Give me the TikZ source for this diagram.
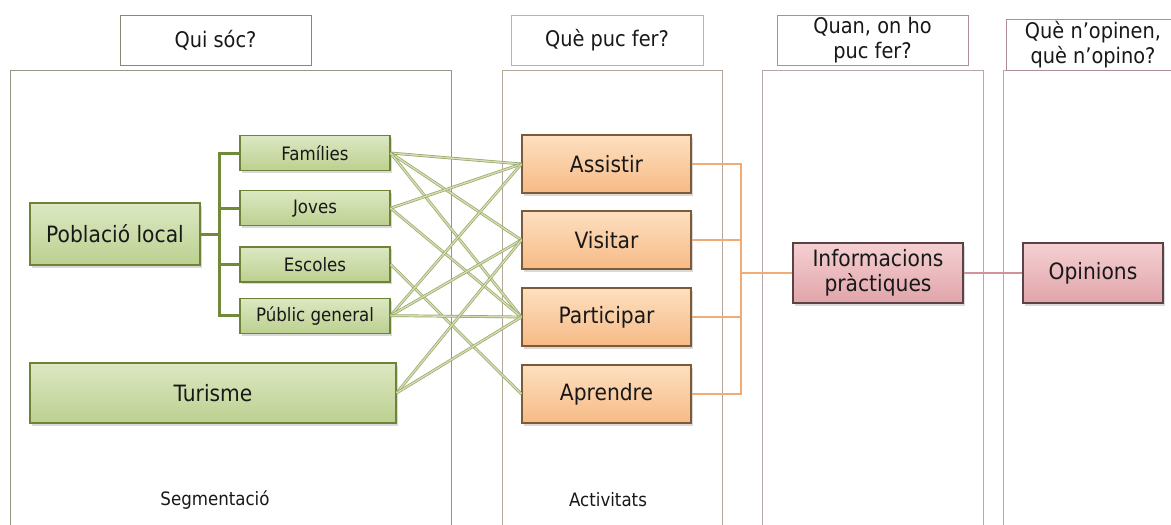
\documentclass[tikz,border=0pt]{standalone}
\usepackage{fontspec}
\setmainfont{DejaVu Sans}[FakeStretch=0.9]
\usetikzlibrary{positioning,shadows,calc}
\definecolor{segTop}{RGB}{220,232,194}
\definecolor{segFill}{RGB}{188,208,144}
\definecolor{segEdge}{RGB}{110,130,58}
\definecolor{treeCol}{RGB}{112,138,58}
\definecolor{actTop}{RGB}{253,224,192}
\definecolor{actFill}{RGB}{247,186,134}
\definecolor{actEdge}{RGB}{125,90,56}
\definecolor{actLine}{RGB}{240,172,116}
\definecolor{infTop}{RGB}{245,208,210}
\definecolor{infFill}{RGB}{224,164,170}
\definecolor{infEdge}{RGB}{92,66,68}
\definecolor{infLine}{RGB}{210,146,156}
\definecolor{linkEdge}{RGB}{150,166,104}
\definecolor{linkFill}{RGB}{212,222,178}
\definecolor{laneGreen}{RGB}{150,150,130}
\definecolor{laneSand}{RGB}{178,168,152}
\definecolor{lanePink}{RGB}{182,166,170}
\definecolor{headGreen}{RGB}{135,138,110}
\definecolor{headSand}{RGB}{192,178,152}
\definecolor{headPink}{RGB}{176,142,152}
\definecolor{ink}{RGB}{24,24,24}

\begin{document}
\begin{tikzpicture}[
        x=1pt, y=-1pt,
        lane/.style={draw=#1, line width=1pt},
        head/.style={draw=#1, fill=white, line width=1pt, align=center, inner sep=0pt,
          minimum height=50pt, text=ink, font=\fontsize{21.5}{25}\selectfont},
        bevel/.style={line width=1.2pt, inner sep=0pt, align=center, text=ink,
          drop shadow={shadow xshift=2pt, shadow yshift=-2.5pt, opacity=0.3}},
        seg/.style={bevel, draw=segEdge, top color=segTop, bottom color=segFill,
          font=\fontsize{22.5}{25}\selectfont},
        subseg/.style={seg, minimum width=150pt, minimum height=35pt,
          font=\fontsize{18.5}{20}\selectfont},
        act/.style={bevel, draw=actEdge, top color=actTop, bottom color=actFill,
          minimum width=169pt, minimum height=58pt, font=\fontsize{22.5}{25}\selectfont},
        info/.style={bevel, draw=infEdge, top color=infTop, bottom color=infFill,
          minimum height=60pt, font=\fontsize{22.5}{25}\selectfont},
        foot/.style={text=ink, inner sep=0pt, font=\fontsize{18.5}{20}\selectfont},
        tree/.style={treeCol, line width=3pt},
        link/.style={draw=linkEdge, line width=0.7pt, double=linkFill, double distance=1.4pt},
        actlink/.style={actLine, line width=2pt},
        inflink/.style={infLine, line width=2.2pt}
      ]
        \useasboundingbox (0,0) rectangle (1171,525);

        % columns
        \draw[lane=laneGreen] (10,70) rectangle (451,540);
        \draw[lane=laneSand] (502,70) rectangle (722,540);
        \draw[lane=lanePink] (762,70) rectangle (983,540);
        \draw[lane=lanePink] (1003,70) rectangle (1190,540);

        % column headings
        \node[head=headGreen, minimum width=191pt] (quisoc) at (215.5,40) {Qui sóc?};
        \node[head=headSand, minimum width=192pt] (quefer) at (607,40) {Què puc fer?};
        \node[head=headPink, minimum width=191pt] (quanon) at (872.5,40) {Quan, on ho\\puc fer?};
        \node[head=headPink, minimum width=174pt, minimum height=51pt] (opinen) at (1093,44.5) {Què n’opinen,\\què n’opino?};

        % segments
        \node[seg, minimum width=170pt, minimum height=62pt] (local) at (115,234) {Població local};
        \node[subseg] (families) at (315,153) {Famílies};
        \node[subseg, below=19pt of families] (joves) {Joves};
        \node[subseg, below=20pt of joves] (escoles) {Escoles};
        \node[subseg, below=15pt of escoles] (public) {Públic general};
        \node[seg, minimum width=366pt, minimum height=60pt] (turisme) at (213,393) {Turisme};

        % activities
        \node[act] (assistir) at (606.5,164) {Assistir};
        \node[act] (visitar) at (606.5,240) {Visitar};
        \node[act] (participar) at (606.5,317) {Participar};
        \node[act] (aprendre) at (606.5,394) {Aprendre};

        \node[info, minimum width=170pt] (informacions) at (878,273) {Informacions\\pràctiques};
        \node[info, minimum width=140pt] (opinions) at (1093,273) {Opinions};

        % segment tree
        \coordinate (localfork) at ($(local.east)+(19,0)$);
        \draw[tree] (local.east) -- (localfork);
        \foreach \n in {families,joves,escoles,public}
          \draw[tree] (localfork) |- (\n.west);

        % segments to activities
        \foreach \a/\b in {families/assistir, families/visitar, families/participar,
            joves/assistir, joves/participar, escoles/aprendre,
            public/assistir, public/visitar, public/participar,
            turisme/visitar, turisme/participar}
          \draw[link] (\a.east) -- (\b.west);

        % activities to practical info
        \coordinate (actfork) at ($(informacions.west)+(-51,0)$);
        \foreach \n in {assistir,visitar,participar,aprendre}
          \draw[actlink] (\n.east) -| (actfork);
        \draw[actlink] (actfork) -- (informacions.west);
        \draw[inflink] (informacions.east) -- (opinions.west);

        \node[foot] (segmentacio) at (215,500) {Segmentació};
        \node[foot] (activitats) at (608,500) {Activitats};
      \end{tikzpicture}
\end{document}
